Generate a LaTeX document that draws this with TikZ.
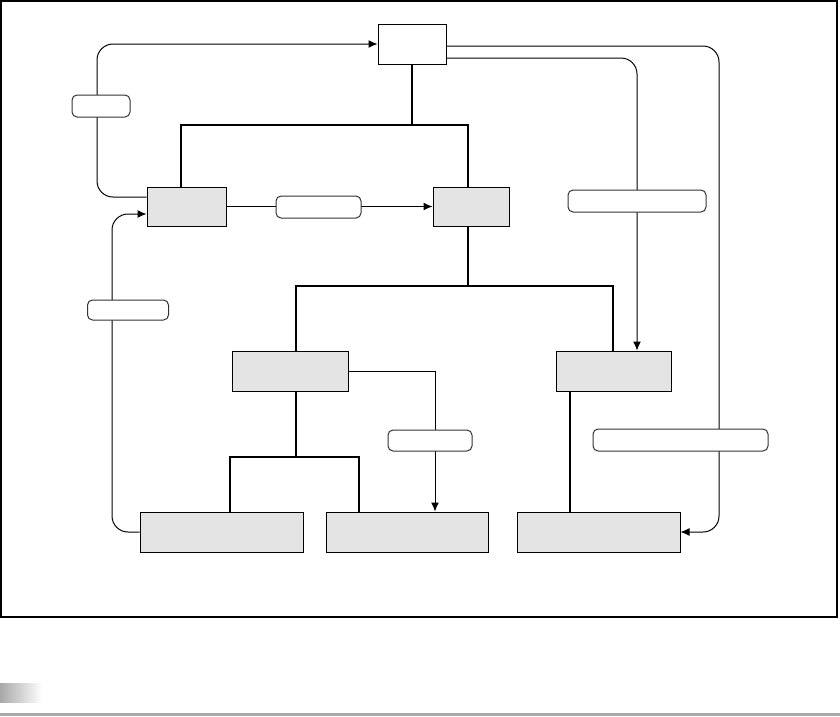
\documentclass[tikz,border=0pt]{standalone}
\usepackage{tikz}
\usetikzlibrary{positioning,arrows.meta,backgrounds}
\definecolor{boxgray}{HTML}{E4E4E4}
\definecolor{bargray}{HTML}{A8A8A8}
\begin{document}
\begin{tikzpicture}[x=1pt,y=-1pt,
  box/.style={draw,line width=1pt,inner sep=0pt,minimum height=40pt},
  grbox/.style={box,fill=boxgray},
  tag/.style={draw=black!80,fill=white,line width=1pt,rounded corners=5pt,inner sep=0pt,minimum height=22pt},
  tree/.style={line width=2pt},
  flow/.style={line width=1pt,rounded corners=16pt,-{Latex[length=9pt,width=8pt]}}]
  \useasboundingbox (0,0) rectangle (840,716);
  \draw[line width=1.3pt] (1,1) rectangle (837,617);
  \shade[left color=bargray,right color=white] (0,683) rectangle (42,702);
  \fill[bargray] (0,713) rectangle (840,716);
  % tree
  \node[box,fill=white,minimum width=68pt] (top) at (412,44) {};
  \node[grbox,minimum width=79pt,minimum height=39pt] (l1a) at (186.5,206.5) {};
  \node[grbox,minimum width=76pt,minimum height=39pt] (l1b) at (471,206.5) {};
  \node[grbox,minimum width=116pt] (l2a) at (290,371) {};
  \node[grbox,minimum width=115pt] (l2b) at (613.5,371) {};
  \node[grbox,minimum width=163pt] (l3a) at (221.5,532) {};
  \node[grbox,minimum width=162pt] (l3b) at (407,532) {};
  \node[grbox,minimum width=163pt] (l3c) at (598.5,532) {};
  % tags
  \node[tag,minimum width=58pt] (lab1) at (101,106) {};
  \node[tag,minimum width=81pt,minimum height=20pt] (lab2) at (128,310) {};
  \node[tag,minimum width=85pt] (lab3) at (318.5,207) {};
  \node[tag,minimum width=138pt] (lab4) at (637,201) {};
  \node[tag,minimum width=175pt] (lab5) at (680.5,440) {};
  \node[tag,minimum width=84pt,minimum height=21pt] (lab6) at (430,440.5) {};
  \coordinate (b1) at (412,125);
  \coordinate (b2) at (468,286);
  \coordinate (b3) at (296,457);
  \draw[tree] (top) -- (b1);
  \draw[tree] ([xshift=-5.5]l1a.north) |- (b1) -| ([xshift=-3]l1b.north);
  \draw[tree] ([xshift=-3]l1b.south) -- (b2);
  \draw[tree] ([xshift=6]l2a.north) |- (b2) -| ([xshift=-0.5]l2b.north);
  \draw[tree] ([xshift=6]l2a.south) -- (b3);
  \draw[tree] ([xshift=8.5]l3a.north) |- (b3) -| ([xshift=-48]l3b.north);
  \draw[tree] ([xshift=-43.5]l2b.south) -- ([xshift=-28.5]l3c.north);
  % thin arrows
  \begin{pgfonlayer}{background}
  \draw[flow] ([yshift=9.5]l1a.west) -| ([xshift=-4]lab1.center) |- (top.west);
  \draw[flow] (l3a.west) -| ([xshift=-16]lab2.center) |- ([yshift=-7.5]l1a.west);
  \draw[flow] (l1a) -- (l1b);
  \draw[flow] ([yshift=-2]top.east) -| ([xshift=38.5]lab5.center) |- (l3c.east);
  \draw[flow] ([yshift=-14]top.east) -| ([xshift=23.5]l2b.north);
  \draw[flow,sharp corners] (l2a.east) -| ([xshift=28]l3b.north);
  \end{pgfonlayer}
\end{tikzpicture}
\end{document}
